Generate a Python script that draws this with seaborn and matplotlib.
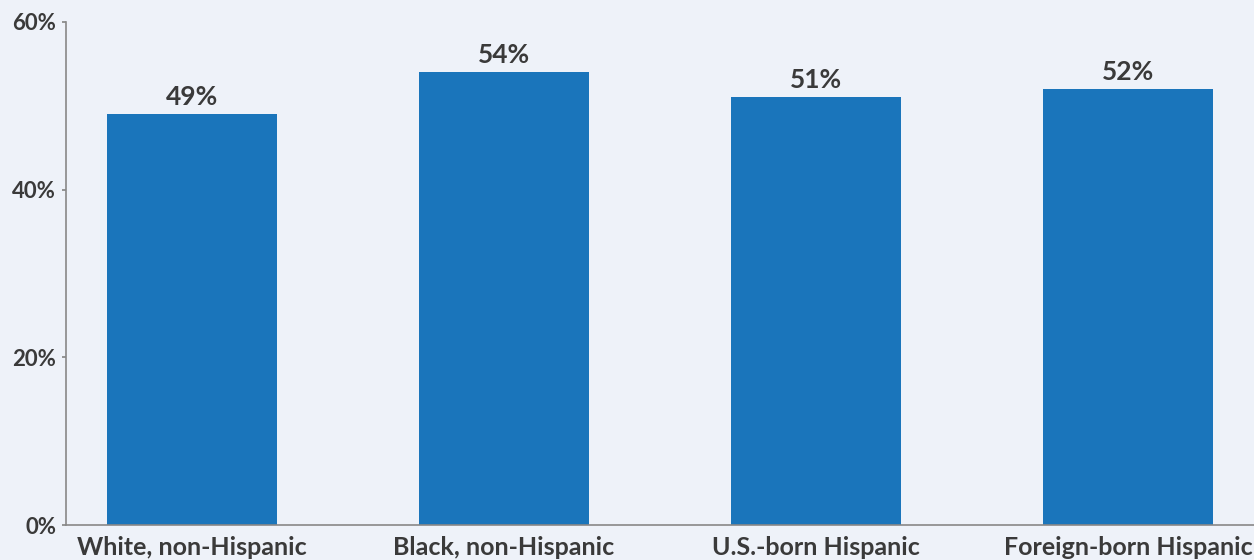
import matplotlib
matplotlib.use("Agg")
import matplotlib.pyplot as plt
import seaborn as sns
import pandas as pd

categories = ["White, non-Hispanic", "Black, non-Hispanic", "U.S.-born Hispanic", "Foreign-born Hispanic"]
values = [49, 54, 51, 52]
yticks = [0, 20, 40, 60]
ytick_labels = ["0%", "20%", "40%", "60%"]

BG = "#eef2f9"
BAR = "#1a75bb"
TXT = "#3a3a3a"

sns.set_theme(style="white")
plt.rcParams["font.family"] = ["Lato", "DejaVu Sans"]

fig = plt.figure(figsize=(12.54, 5.6), dpi=100, facecolor=BG)
ax = fig.add_axes([66/1254, 1-525/560, 1-66/1254, (525-22)/560])
ax.set_facecolor(BG)

df = pd.DataFrame({"cat": categories, "val": values})
sns.barplot(data=df, x="cat", y="val", color=BAR, saturation=1, width=0.545,
            linewidth=0, edgecolor=BAR, ax=ax)

ax.set_xlim(-0.404, 3.404)
ax.set_ylim(0, 60)
ax.set_yticks(yticks)
ax.set_yticklabels(ytick_labels)
ax.set_xlabel("")
ax.set_ylabel("")
for s in ["top", "right"]:
    ax.spines[s].set_visible(False)
for s in ["left", "bottom"]:
    ax.spines[s].set_color("#888888")
    ax.spines[s].set_linewidth(1.2)
ax.tick_params(axis="y", left=True, length=3, color="#888888", labelsize=16, labelcolor=TXT, pad=4)
ax.tick_params(axis="x", bottom=False, labelsize=18, labelcolor=TXT, pad=2)
for lbl in ax.get_yticklabels() + ax.get_xticklabels():
    lbl.set_fontweight("bold")

for i, v in enumerate(values):
    ax.text(i, v + 0.6, f"{v}%", ha="center", va="bottom", fontsize=19, fontweight="bold", color=TXT)

fig.savefig("out.png", dpi=100, facecolor=BG)
